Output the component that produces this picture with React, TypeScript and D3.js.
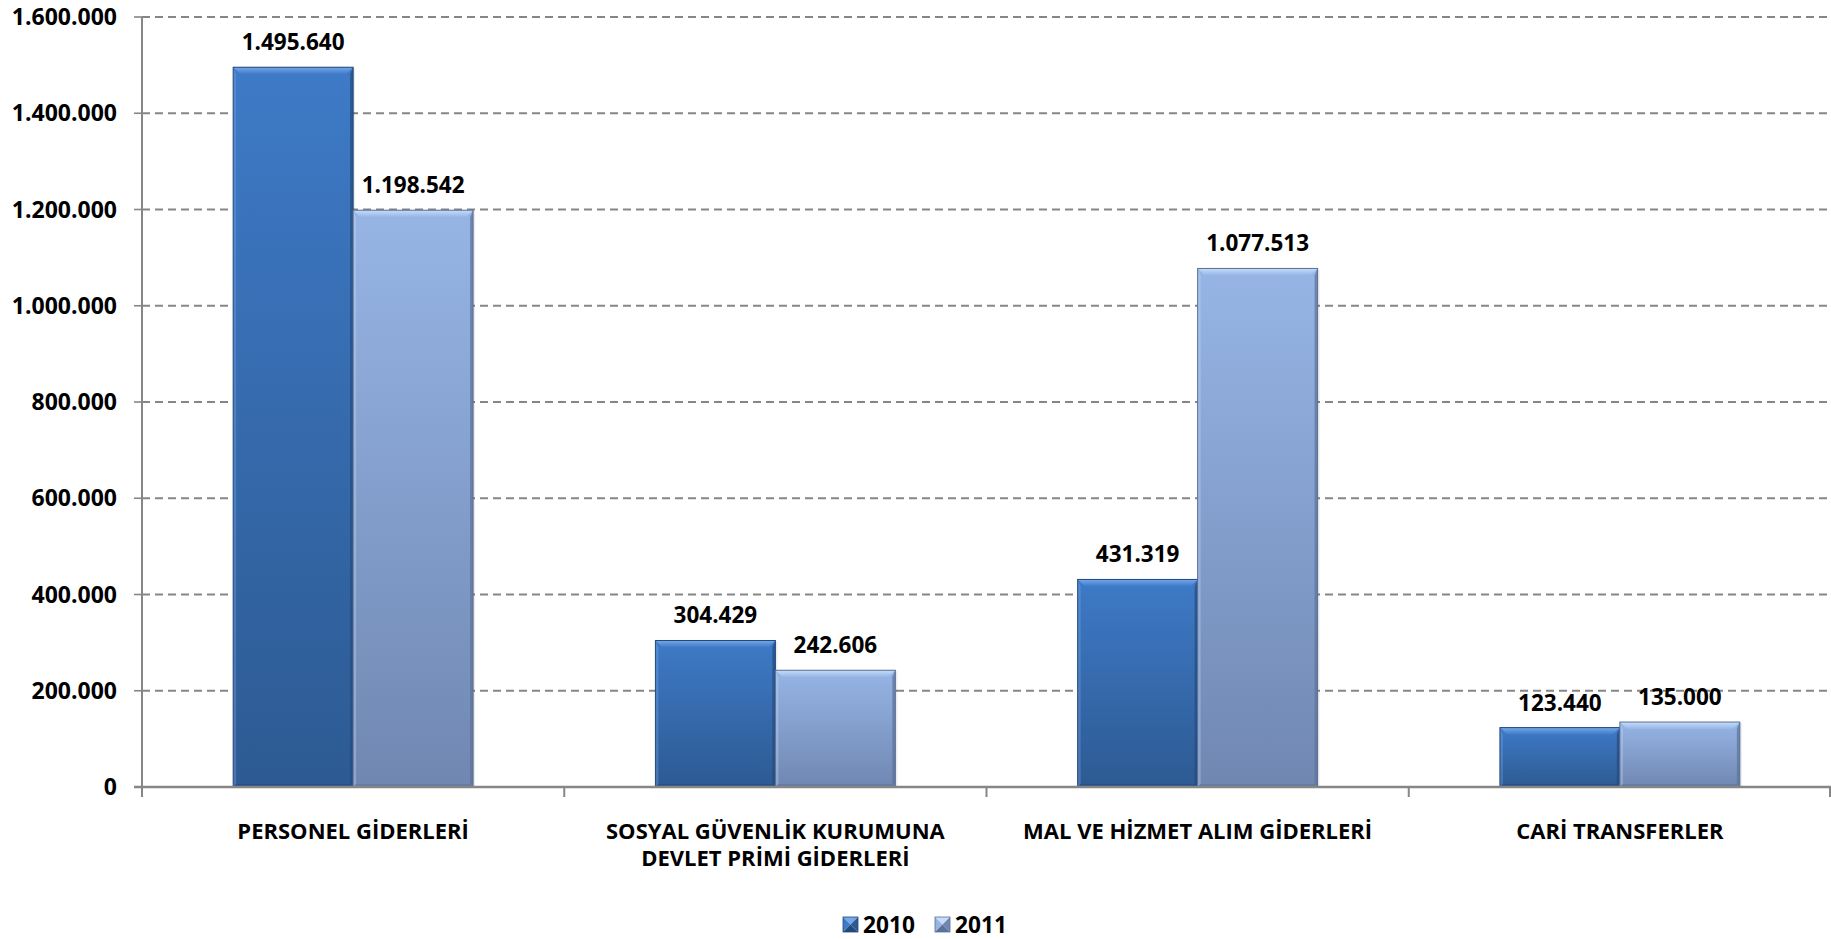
import React from 'react';
import * as d3 from 'd3';

// expense categories (label lines)
const categories = [
  ["PERSONEL GİDERLERİ"],
  ["SOSYAL GÜVENLİK KURUMUNA", "DEVLET PRİMİ GİDERLERİ"],
  ["MAL VE HİZMET ALIM GİDERLERİ"],
  ["CARİ TRANSFERLER"]
];

const years = ["2010", "2011"];

const values2010 = [1495640, 304429, 431319, 123440];
const values2011 = [1198542, 242606, 1077513, 135000];

const yTicks = [0, 200000, 400000, 600000, 800000, 1000000, 1200000, 1400000, 1600000];

const W = 1831;
const H = 939;
const FONT = "'Open Sans', 'Noto Sans', sans-serif";

const locale = d3.formatLocale({ decimal: ",", thousands: ".", grouping: [3], currency: ["", ""] });
const fmt = locale.format(",d");

const palette = {
  "2010": { top: "#3e7ac7", bottom: "#2d5a92", light: "#75a8ea", dark: "#234a7c", edge: "#24487a" },
  "2011": { top: "#96b5e5", bottom: "#7087b2", light: "#c6dcf9", dark: "#5d7299", edge: "#5b6f96" }
};

const Bar = ({ x, y, w, h, year }) => {
  const c = palette[year];
  const b = Math.min(7, h / 2);
  const s = Math.min(3, h / 2);
  return (
    <g>
      <rect x={x + 2} y={y + 1} width={w} height={h} fill="#000" opacity={0.08} />
      <rect x={x} y={y} width={w} height={h} fill={`url(#g${year})`} />
      {/* top bevel */}
      <polygon points={`${x},${y} ${x + w},${y} ${x + w - b},${y + b} ${x + b},${y + b}`} fill={`url(#t${year})`} />
      {/* left bevel */}
      <polygon points={`${x},${y} ${x + s},${y + b} ${x + s},${y + h - s} ${x},${y + h}`} fill={c.light} opacity={0.35} />
      {/* right bevel */}
      <polygon points={`${x + w},${y} ${x + w - s},${y + b} ${x + w - s},${y + h - s} ${x + w},${y + h}`} fill={c.dark} opacity={0.7} />
      {/* bottom bevel */}
      <polygon points={`${x},${y + h} ${x + s},${y + h - s} ${x + w - s},${y + h - s} ${x + w},${y + h}`} fill={c.dark} opacity={0.6} />
      <rect x={x} y={y} width={w} height={h} fill="none" stroke={c.edge} strokeWidth={1} />
    </g>
  );
};

const LegendKey = ({ x, y, year }) => {
  const c = palette[year];
  const s = 15;
  const m = s / 2;
  return (
    <g>
      <polygon points={`${x},${y} ${x + s},${y} ${x + m},${y + m}`} fill={c.light} />
      <polygon points={`${x},${y} ${x + m},${y + m} ${x},${y + s}`} fill={c.top} />
      <polygon points={`${x + s},${y} ${x + m},${y + m} ${x + s},${y + s}`} fill={c.bottom} />
      <polygon points={`${x},${y + s} ${x + m},${y + m} ${x + s},${y + s}`} fill={c.dark} />
      <rect x={x} y={y} width={s} height={s} fill="none" stroke={c.edge} strokeWidth={0.8} />
    </g>
  );
};

export default function App() {
  const left = 142;
  const right = W;
  const y0 = 787;
  const yTop = 17;

  const x = d3.scaleBand<number>()
    .domain(d3.range(categories.length))
    .range([left, right])
    .paddingInner(0)
    .paddingOuter(0);

  const xs = d3.scaleBand<string>()
    .domain(years)
    .range([0, x.bandwidth()])
    .paddingInner(0)
    .paddingOuter(0.76);

  const y = d3.scaleLinear().domain([0, 1600000]).range([y0, yTop]);

  const seriesValues = { "2010": values2010, "2011": values2011 };

  return (
    <svg width={W} height={H} style={{ position: "absolute", left: 0, top: 0, background: "#fff" }}
      fontFamily={FONT} fontWeight={700}>
      <defs>
        {years.map(yr => (
          <linearGradient key={"g" + yr} id={"g" + yr} x1="0" y1="0" x2="0" y2="1">
            <stop offset="0" stopColor={palette[yr].top} />
            <stop offset="1" stopColor={palette[yr].bottom} />
          </linearGradient>
        ))}
        {years.map(yr => (
          <linearGradient key={"t" + yr} id={"t" + yr} x1="0" y1="0" x2="0" y2="1">
            <stop offset="0" stopColor={palette[yr].light} />
            <stop offset="1" stopColor={palette[yr].top} />
          </linearGradient>
        ))}
      </defs>

      {/* gridlines */}
      {yTicks.filter(t => t > 0).map(t => (
        <line key={t} x1={left} x2={right} y1={y(t)} y2={y(t)}
          stroke="#868686" strokeWidth={1.8} strokeDasharray="8,5" />
      ))}

      {/* y tick labels and marks */}
      {yTicks.map(t => (
        <g key={"yt" + t}>
          <line x1={left - 8} x2={left} y1={y(t)} y2={y(t)} stroke="#868686" strokeWidth={1.6} />
          <text x={117} y={y(t) + 8} textAnchor="end" fontSize={23} fill="#000">{fmt(t)}</text>
        </g>
      ))}

      {/* bars */}
      {years.map(yr => (
        <g key={yr}>
          {seriesValues[yr].map((v, i) => {
            const bx = x(i) + xs(yr);
            const by = y(v);
            return <Bar key={i} x={bx} y={by} w={xs.bandwidth()} h={y0 - by} year={yr} />;
          })}
        </g>
      ))}

      {/* axes */}
      <line x1={left} x2={left} y1={yTop} y2={y0} stroke="#868686" strokeWidth={2} />
      <line x1={left - 8} x2={right} y1={y0} y2={y0} stroke="#868686" strokeWidth={2.5} />
      {d3.range(categories.length + 1).map(i => {
        const tx = i < categories.length ? x(i) : right - 1;
        return <line key={"xt" + i} x1={tx} x2={tx} y1={y0} y2={y0 + 10} stroke="#868686" strokeWidth={2} />;
      })}

      {/* data labels */}
      {years.map(yr => (
        <g key={"lab" + yr}>
          {seriesValues[yr].map((v, i) => (
            <text key={i} x={x(i) + xs(yr) + xs.bandwidth() / 2} y={y(v) - 17}
              textAnchor="middle" fontSize={22.5} fill="#000">{fmt(v)}</text>
          ))}
        </g>
      ))}

      {/* category labels */}
      {categories.map((lines, i) => (
        <g key={"c" + i}>
          {lines.map((ln, j) => (
            <text key={j} x={x(i) + x.bandwidth() / 2} y={839 + j * 27} textAnchor="middle"
              fontSize={22} fill="#000">{ln}</text>
          ))}
        </g>
      ))}

      {/* legend */}
      <g>
        <LegendKey x={843} y={917} year="2010" />
        <text x={863} y={933} fontSize={22.7} fill="#000">2010</text>
        <LegendKey x={935} y={917} year="2011" />
        <text x={955} y={933} fontSize={22.7} fill="#000">2011</text>
      </g>
    </svg>
  );
}
